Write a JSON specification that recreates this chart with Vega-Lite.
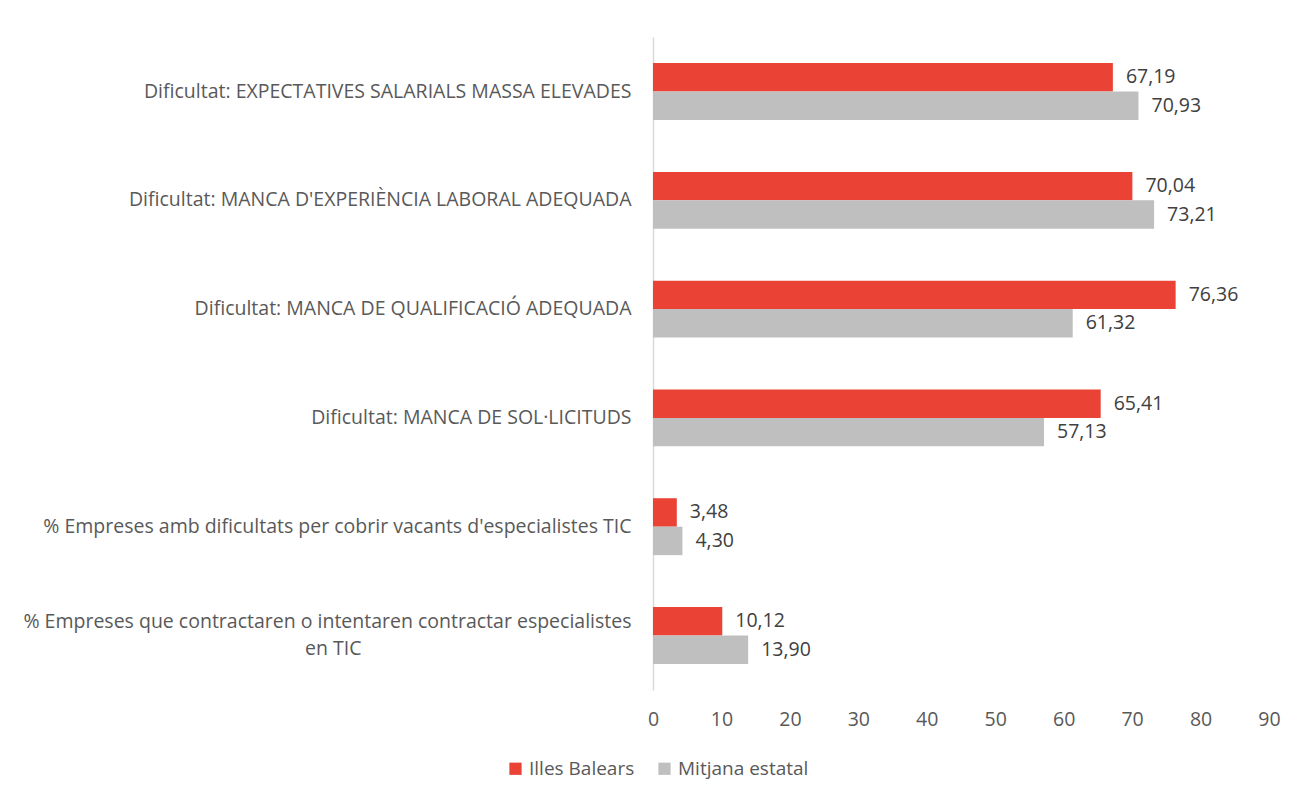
{
  "$schema": "https://vega.github.io/schema/vega-lite/v6.json",
  "width": 616,
  "height": 653,
  "autosize": "none",
  "padding": {"left": 653, "top": 37, "right": 37, "bottom": 106},
  "background": "white",
  "config": {
    "view": {"stroke": null},
    "locale": {"number": {"decimal": ",", "thousands": ".", "grouping": [3], "currency": ["", " €"]}},
    "font": "Open Sans"
  },
  "data": {
    "values": [
      {"category": "Dificultat: EXPECTATIVES SALARIALS MASSA ELEVADES", "series": "Illes Balears", "value": 67.19},
      {"category": "Dificultat: EXPECTATIVES SALARIALS MASSA ELEVADES", "series": "Mitjana estatal", "value": 70.93},
      {"category": "Dificultat: MANCA D'EXPERIÈNCIA LABORAL ADEQUADA", "series": "Illes Balears", "value": 70.04},
      {"category": "Dificultat: MANCA D'EXPERIÈNCIA LABORAL ADEQUADA", "series": "Mitjana estatal", "value": 73.21},
      {"category": "Dificultat: MANCA DE QUALIFICACIÓ ADEQUADA", "series": "Illes Balears", "value": 76.36},
      {"category": "Dificultat: MANCA DE QUALIFICACIÓ ADEQUADA", "series": "Mitjana estatal", "value": 61.32},
      {"category": "Dificultat: MANCA DE SOL·LICITUDS", "series": "Illes Balears", "value": 65.41},
      {"category": "Dificultat: MANCA DE SOL·LICITUDS", "series": "Mitjana estatal", "value": 57.13},
      {"category": "% Empreses amb dificultats per cobrir vacants d'especialistes TIC", "series": "Illes Balears", "value": 3.48},
      {"category": "% Empreses amb dificultats per cobrir vacants d'especialistes TIC", "series": "Mitjana estatal", "value": 4.30},
      {"category": "% Empreses que contractaren o intentaren contractar especialistes en TIC", "series": "Illes Balears", "value": 10.12},
      {"category": "% Empreses que contractaren o intentaren contractar especialistes en TIC", "series": "Mitjana estatal", "value": 13.90}
    ]
  },
  "encoding": {
    "y": {
      "field": "category",
      "type": "nominal",
      "sort": null,
      "scale": {"paddingInner": 0.477, "paddingOuter": 0.24},
      "axis": {
        "title": null,
        "ticks": false,
        "domain": true,
        "domainColor": "#d9d9d9",
        "domainWidth": 1.5,
        "labelFontSize": 19.5,
        "labelColor": "#595959",
        "labelPadding": 22,
        "labelLimit": 800,
        "labelLineHeight": 27,
        "labelOffset": {"condition": {"test": "indexof(datum.value, 'contractaren') >= 0", "value": -13}, "value": 0},
        "labelExpr": "datum.value == '% Empreses que contractaren o intentaren contractar especialistes en TIC' ? ['% Empreses que contractaren o intentaren contractar especialistes', 'en TIC\u2800\u2800\u2800\u2800\u2800\u2800\u2800\u2800\u2800\u2800\u2800\u2800\u2800\u2800\u2800\u2800\u2800\u2800'] : datum.value"
      }
    },
    "yOffset": {"field": "series", "type": "nominal", "sort": ["Illes Balears", "Mitjana estatal"], "scale": {"paddingInner": 0}},
    "x": {
      "field": "value",
      "type": "quantitative",
      "scale": {"domain": [0, 90], "nice": false},
      "axis": {
        "title": null,
        "values": [0, 10, 20, 30, 40, 50, 60, 70, 80, 90],
        "grid": false,
        "ticks": false,
        "domain": false,
        "labelFontSize": 19.5,
        "labelColor": "#595959",
        "labelPadding": 20,
        "labelFlush": false
      }
    }
  },
  "layer": [
    {
      "mark": {"type": "bar", "stroke": null},
      "encoding": {
        "color": {
          "field": "series",
          "type": "nominal",
          "scale": {"domain": ["Illes Balears", "Mitjana estatal"], "range": ["#EA4335", "#BFBFBF"]},
          "legend": {
            "title": null,
            "orient": "none",
            "direction": "horizontal",
            "legendX": -147,
            "legendY": 722,
            "symbolType": "square",
            "symbolSize": 150,
            "symbolOpacity": 1,
            "symbolStrokeWidth": 0,
            "labelFontSize": 19,
            "labelColor": "#595959",
            "labelOffset": 4,
            "columnPadding": 20
          }
        }
      }
    },
    {
      "mark": {"type": "text", "align": "left", "baseline": "middle", "dx": 13, "fontSize": 19.5, "color": "#404040"},
      "encoding": {
        "text": {"field": "value", "type": "quantitative", "format": ".2f"}
      }
    }
  ]
}
